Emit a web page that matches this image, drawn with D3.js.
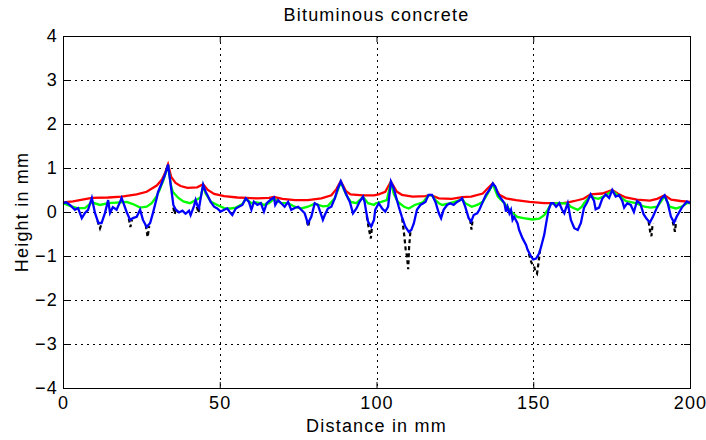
<!DOCTYPE html>
<html><head><meta charset="utf-8">
<script src="https://cdn.jsdelivr.net/npm/d3@7"></script>
<style>
body{margin:0;background:#fff;}
text{font-family:"Liberation Sans",Arial,sans-serif;}
</style></head>
<body><svg id="c" width="706" height="440"></svg>
<script>
const title = "Bituminous concrete";
const xLabel = "Distance in mm";
const yLabel = "Height in mm";
const xTicks = [0, 50, 100, 150, 200];
const yTicks = [-4, -3, -2, -1, 0, 1, 2, 3, 4];

const blueX = [0,1.0,2.2,3.8,4.8,6.0,7.0,8.0,9.2,10.2,11.3,12.3,13.4,14.4,15.0,15.9,17.1,18.2,18.7,20.3,21.4,22.3,23.5,24.6,25.5,26.7,27.8,28.7,29.9,30.3,31.5,32.5,33.5,34.5,35.2,35.9,37.0,38.1,39.1,40.2,40.7,41.8,42.3,42.8,43.4,43.9,44.7,45.5,46.0,47.1,48.2,49.2,50.3,51.4,52.4,53.5,54.0,55.1,56.1,57.2,58.3,59.3,60.1,60.9,62.0,63.1,64.1,65.0,66.4,67.3,67.7,68.6,69.6,70.7,71.8,72.8,73.9,75.0,76.0,77.1,78.1,79.2,80.3,81.3,82.4,82.9,83.5,84.5,85.6,86.7,87.7,88.6,89.3,90.4,91.5,92.5,93.6,94.6,95.7,96.2,96.7,97.3,98.3,99.2,99.6,100.7,101.8,102.8,103.7,104.6,105.5,106.2,107.1,108.1,109.2,110.3,111.1,111.9,112.9,114.0,115.6,116.6,117.7,118.8,119.9,120.6,121.4,122.5,123.5,124.6,125.7,126.7,127.3,128.3,129.4,130.2,131.0,132.1,132.8,133.9,134.9,136.0,137.1,137.9,138.7,139.7,140.8,141.3,141.8,142.4,142.9,143.4,143.9,145.0,145.5,146.6,147.7,148.2,149.3,150.0,150.9,151.9,152.5,153.5,154.3,154.9,155.7,156.4,157.3,158.3,159.2,159.9,160.4,161.0,162.0,163.1,164.2,165.2,166.2,167.2,168.3,169.4,169.9,171.0,172.0,173.1,174.2,175.2,176.3,177.4,178.4,179.0,180.0,181.1,182.1,183.1,184.1,185.2,186.1,187.2,188.2,189.2,190.8,191.9,192.9,193.9,194.9,195.8,197.4,199.0,200.0];
const blueY = [0.2,0.22,0.16,0.05,0.09,-0.14,-0.02,0.05,0.32,-0.02,-0.25,-0.25,-0.02,0.27,-0.02,0.11,0.05,0.23,0.32,0.0,-0.18,-0.14,-0.11,0.05,-0.18,-0.34,-0.25,-0.02,0.32,0.45,0.66,0.84,1.08,0.54,0.16,0.06,-0.01,0.03,-0.04,0.03,-0.07,0.14,0.27,0.16,0.09,0.31,0.62,0.46,0.39,0.23,0.12,0.08,0.01,0.05,0.08,-0.03,-0.07,0.08,0.12,0.16,0.31,0.23,0.05,0.23,0.16,0.2,0.01,0.2,0.29,0.33,0.16,0.27,0.2,0.12,0.23,0.05,0.09,0.12,0.05,-0.03,-0.26,-0.11,0.2,0.16,-0.07,-0.18,-0.07,0.08,0.12,0.31,0.54,0.7,0.58,0.39,0.23,-0.03,0.08,0.23,0.35,0.23,0.01,-0.22,-0.33,-0.18,0.05,0.2,0.08,0.01,0.12,0.69,0.54,0.35,0.12,-0.11,-0.33,-0.45,-0.41,-0.26,0.05,0.16,0.23,0.39,0.39,0.23,-0.03,-0.14,0.05,0.16,0.2,0.16,0.23,0.27,0.31,0.12,-0.14,-0.22,-0.07,-0.03,0.05,0.23,0.39,0.5,0.65,0.58,0.42,0.31,0.2,0.01,0.12,-0.03,0.05,-0.18,-0.11,-0.26,-0.41,-0.6,-0.75,-0.86,-1.01,-1.08,-1.06,-0.94,-0.79,-0.52,-0.18,0.05,0.2,0.2,0.12,0.2,0.05,-0.03,0.08,0.2,-0.18,-0.37,-0.41,-0.25,0.1,0.22,0.4,0.25,0.06,0.1,0.3,0.4,0.32,0.5,0.35,0.38,0.25,0.1,0.2,0.16,0.0,0.25,0.2,-0.05,-0.15,-0.24,-0.1,0.06,0.3,0.38,0.2,-0.1,-0.24,-0.1,0.1,0.24,0.2];

const redX = [0,3.2,9.2,14.4,18.7,23.5,26.7,29.9,31.5,32.5,33.5,34.5,35.9,37.5,39.7,42.8,44.7,46.2,48.2,51.4,55.6,58.3,62,65.7,67.3,70,74,78.1,82.4,85.6,87.2,88.6,90.2,91.7,95.7,99.2,100.7,102.8,104.6,106.5,108.1,111.5,115.6,117.2,119.9,124,127.3,130.2,133.9,135.5,137.1,139.2,141.3,144.5,148.8,153.5,155.8,159.5,161.2,163.2,166,168.3,172,175.2,177.4,179.5,183.1,187.2,189.5,191.9,194,197,200];
const redY = [0.22,0.24,0.32,0.33,0.35,0.4,0.46,0.6,0.73,0.88,1.08,0.8,0.66,0.59,0.55,0.56,0.63,0.5,0.41,0.36,0.33,0.32,0.31,0.32,0.34,0.3,0.27,0.27,0.31,0.38,0.52,0.7,0.48,0.4,0.38,0.38,0.4,0.46,0.69,0.46,0.39,0.35,0.36,0.39,0.31,0.3,0.34,0.35,0.42,0.54,0.65,0.39,0.31,0.27,0.23,0.2,0.2,0.2,0.22,0.25,0.3,0.4,0.42,0.5,0.4,0.33,0.28,0.26,0.3,0.38,0.28,0.25,0.23];

const greenX = [0,2.2,4.5,7.0,9.2,11.8,14.4,18.2,20.3,22.3,24.6,26.7,28.3,29.9,30.8,32.0,33.5,34.4,35.0,36.8,38.4,40.5,42.3,43.9,44.7,45.5,47.1,49.2,51.4,53.5,55.1,57.2,58.3,60.1,61.5,63.1,64.1,65.7,67.3,69.6,71.8,73.9,76.0,78.1,80.3,82.9,84.5,86.7,88.6,90.4,91.8,93.6,95.7,97.3,99.2,99.8,101.5,103.3,104.6,105.5,106.8,108.8,110.3,112.2,114.8,116.6,117.7,118.8,119.9,121.0,123.5,126.7,127.3,128.3,130.4,132.1,133.9,135.5,137.1,138.7,140.8,142.9,144.9,146.9,149.7,151.9,153.5,154.6,155.7,158.3,161.0,162.0,164.2,165.5,166.2,168.3,169.4,170.8,173.1,175.2,177.4,179.5,182.7,185.5,187.5,189.6,191.9,193.5,195.5,197.3,199.0,200];
const greenY = [0.2,0.14,0.09,0.09,0.22,0.16,0.2,0.22,0.23,0.18,0.1,0.12,0.2,0.36,0.5,0.72,1.06,0.62,0.46,0.32,0.24,0.2,0.27,0.33,0.6,0.42,0.24,0.16,0.09,0.08,0.1,0.18,0.3,0.2,0.22,0.2,0.16,0.2,0.3,0.2,0.2,0.12,0.08,0.12,0.19,0.13,0.14,0.31,0.68,0.38,0.23,0.2,0.34,0.2,0.16,0.2,0.23,0.27,0.67,0.42,0.23,0.12,0.08,0.16,0.22,0.38,0.38,0.27,0.2,0.16,0.2,0.27,0.3,0.2,0.12,0.16,0.23,0.42,0.63,0.35,0.2,0.01,-0.11,-0.14,-0.17,-0.15,-0.07,0.05,0.19,0.2,0.19,0.12,0.05,0.12,0.2,0.38,0.32,0.3,0.38,0.48,0.36,0.25,0.2,0.12,0.1,0.12,0.36,0.12,0.08,0.12,0.2,0.2];

// raw profile (black dashed), only the stretches lying below the blue line; null splits stretches
const blackX = [11.0,11.8,12.4,null,21.0,21.5,22.0,null,26.4,27.0,27.5,null,35.2,35.6,36.0,null,42.7,43.2,43.6,null,77.8,78.2,78.6,null,96.9,97.6,98.2,98.6,null,108.2,108.8,109.3,109.7,110.1,110.4,110.8,null,129.9,130.3,130.7,null,148.6,149.4,150.2,150.7,151.2,151.7,152.2,null,186.8,187.3,187.7,188.1,null,194.5,194.9,195.2,195.6];
const blackY = [-0.2,-0.37,-0.25,null,-0.15,-0.34,-0.18,null,-0.3,-0.57,-0.32,null,0.1,-0.05,0.04,null,0.12,-0.02,0.12,null,-0.2,-0.33,-0.2,null,-0.1,-0.4,-0.6,-0.3,null,-0.15,-0.5,-0.85,-1.0,-1.3,-0.8,-0.45,null,-0.18,-0.4,-0.15,null,-0.95,-1.15,-1.22,-1.35,-1.4,-1.15,-0.85,null,-0.22,-0.45,-0.55,-0.25,null,-0.22,-0.35,-0.45,-0.2];

const svg = d3.select("#c");
const L = 63, R = 690, T = 36, B = 388;
const x = d3.scaleLinear().domain([0, 200]).range([L, R]);
const y = d3.scaleLinear().domain([-4, 4]).range([B, T]);
const fs = 18, ls = 1.2;

// grid
const grid = svg.append("g").attr("stroke", "#000").attr("stroke-width", 1).attr("stroke-dasharray", "1.5,4.5").attr("shape-rendering", "crispEdges");
xTicks.slice(1, -1).forEach(t => grid.append("line").attr("x1", Math.round(x(t)) + 0.5).attr("x2", Math.round(x(t)) + 0.5).attr("y1", T).attr("y2", B));
yTicks.slice(1, -1).forEach(t => grid.append("line").attr("y1", Math.round(y(t)) + 0.5).attr("y2", Math.round(y(t)) + 0.5).attr("x1", L).attr("x2", R));

// axes
const fmt = d => d < 0 ? "\u2212" + Math.abs(d) : String(d);
const ax = (g) => { g.select(".domain").remove(); g.selectAll("line").attr("stroke", "#000"); g.selectAll("text").attr("font-size", fs).attr("letter-spacing", ls).attr("fill", "#000").attr("font-family", "Liberation Sans, Arial, sans-serif"); };
svg.append("g").attr("transform", `translate(0,${B})`).call(d3.axisBottom(x).tickValues(xTicks).tickFormat(fmt).tickSize(-6).tickPadding(8)).call(ax);
svg.append("g").attr("transform", `translate(0,${T})`).call(d3.axisTop(x).tickValues(xTicks).tickFormat("").tickSize(-6)).call(ax);
svg.append("g").attr("transform", `translate(${L},0)`).call(d3.axisLeft(y).tickValues(yTicks).tickFormat(fmt).tickSize(-6).tickPadding(5)).call(ax);
svg.append("g").attr("transform", `translate(${R},0)`).call(d3.axisRight(y).tickValues(yTicks).tickFormat("").tickSize(-6)).call(ax);

// lines
const mk = (xs, ys) => xs.map((v, i) => [v, ys[i]]);
const line = d3.line().defined(d => d[0] !== null && d[1] !== null).x(d => x(d[0])).y(d => y(d[1]));
svg.append("path").datum(mk(blackX, blackY)).attr("d", line).attr("fill", "none").attr("stroke", "#000").attr("stroke-width", 2.2).attr("stroke-dasharray", "4,3");
svg.append("path").datum(mk(redX, redY)).attr("d", line).attr("fill", "none").attr("stroke", "#ff0000").attr("stroke-width", 2.3);
svg.append("path").datum(mk(greenX, greenY)).attr("d", line).attr("fill", "none").attr("stroke", "#00ff00").attr("stroke-width", 2.3);
svg.append("path").datum(mk(blueX, blueY)).attr("d", line).attr("fill", "none").attr("stroke", "#0000ff").attr("stroke-width", 2.3);

// box
svg.append("rect").attr("x", L + 0.5).attr("y", T + 0.5).attr("width", R - L).attr("height", B - T).attr("fill", "none").attr("stroke", "#000").attr("stroke-width", 1);

// texts
const txt = (sel) => sel.attr("font-size", fs).attr("letter-spacing", ls).attr("text-anchor", "middle");
svg.append("text").attr("x", (L + R) / 2).attr("y", 21).call(txt).text(title);
svg.append("text").attr("x", (L + R) / 2).attr("y", 432).call(txt).text(xLabel);
svg.append("text").attr("transform", `translate(28,${(T + B) / 2}) rotate(-90)`).call(txt).text(yLabel);
</script></body></html>
